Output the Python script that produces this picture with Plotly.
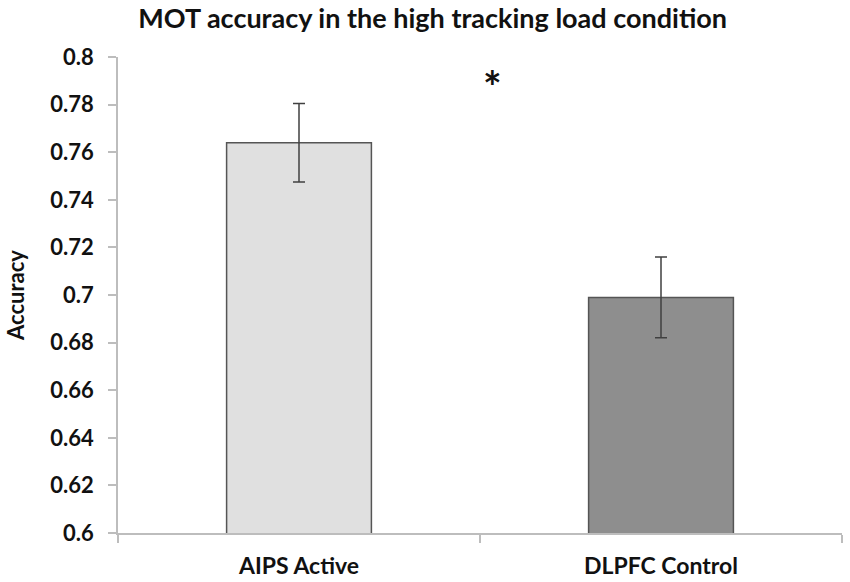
import plotly.graph_objects as go

# data
conditions = ["AIPS Active", "DLPFC Control"]
accuracy = [0.764, 0.699]
sem = [0.0165, 0.017]
bar_colors = ["#e0e0e0", "#8e8e8e"]

FONT = "Lato"
AXIS_GREY = "#bdbdbd"

fig = go.Figure()
fig.add_trace(go.Bar(
    x=conditions,
    y=accuracy,
    width=0.4,
    marker=dict(color=bar_colors, line=dict(color="#555555", width=1.5)),
    error_y=dict(type="data", array=sem, visible=True,
                 color="#404040", thickness=1.5, width=6),
))

# significance marker between the bars
fig.add_annotation(x=0.535, y=0.788, xref="x", yref="y", text="<b>*</b>",
                   showarrow=False, yanchor="middle",
                   font=dict(family=FONT, size=44, color="#111"))

fig.update_layout(
    width=850, height=582,
    margin=dict(l=118, r=8, t=57, b=49),
    paper_bgcolor="white", plot_bgcolor="white",
    showlegend=False,
    title=dict(text="<b>MOT accuracy in the high tracking load condition</b>",
               x=0.509, xanchor="center", y=0.968, yanchor="middle",
               font=dict(family=FONT, size=27, color="#111")),
    xaxis=dict(showline=True, linecolor=AXIS_GREY, linewidth=1.5,
               ticks="outside", tickson="boundaries", ticklen=8,
               tickcolor=AXIS_GREY, tickwidth=1.5, ticklabelstandoff=12,
               tickfont=dict(family=FONT, size=23, color="#111", weight="bold"),
               showgrid=False, automargin=False),
    yaxis=dict(range=[0.6, 0.8], dtick=0.02, tickformat="~g",
               showline=True, linecolor=AXIS_GREY, linewidth=1.5,
               ticks="outside", ticklen=8, tickcolor=AXIS_GREY, tickwidth=1.5,
               ticklabelstandoff=10,
               tickfont=dict(family=FONT, size=22, color="#111", weight="bold"),
               showgrid=False, zeroline=False,
               title=dict(text="<b>Accuracy</b>", standoff=20,
                          font=dict(family=FONT, size=22, color="#111"))),
)

# drop the default page margin so the figure sits at the window's corner
fig.write_html("out.html", config={"displayModeBar": False},
               post_script="document.body.style.margin='0';")
